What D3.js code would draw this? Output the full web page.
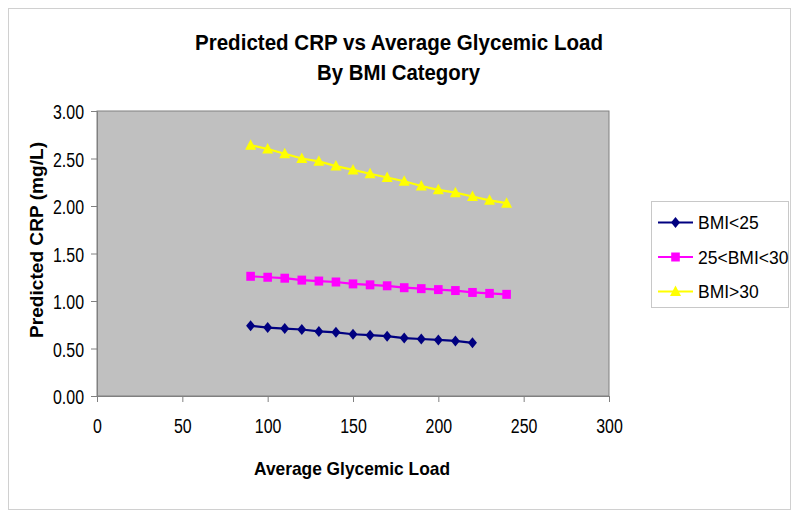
<!DOCTYPE html>
<html><head><meta charset="utf-8">
<script src="https://cdn.jsdelivr.net/npm/d3@7"></script>
<style>body{margin:0;background:#fff}svg{display:block}text{font-family:"Liberation Sans",Arial,sans-serif}</style>
</head><body><svg id="c" width="800" height="522"></svg>
<script>
const glycemicLoad = [90,100,110,120,130,140,150,160,170,180,190,200,210,220,230,240];
const bmiUnder25 = [0.74,0.72,0.71,0.70,0.68,0.67,0.65,0.64,0.63,0.61,0.60,0.59,0.58,0.56];
const bmi25to30 = [1.26,1.25,1.24,1.22,1.21,1.20,1.18,1.17,1.16,1.14,1.13,1.12,1.11,1.09,1.08,1.07];
const bmiOver30 = [2.64,2.60,2.55,2.50,2.47,2.42,2.38,2.34,2.30,2.26,2.21,2.17,2.14,2.10,2.06,2.03];
const seriesNames = ["BMI<25","25<BMI<30","BMI>30"];
const seriesColors = ["#000080","#FF00FF","#FFFF00"];
const xTicks = [0,50,100,150,200,250,300];
const yTicks = [0,0.5,1,1.5,2,2.5,3];
const titleLines = ["Predicted CRP vs Average Glycemic Load","By BMI Category"];
const xTitle = "Average Glycemic Load";
const yTitle = "Predicted CRP (mg/L)";

const svg = d3.select("#c");
svg.append("rect").attr("x",8.5).attr("y",8.5).attr("width",782).attr("height",501)
  .attr("fill","#fff").attr("stroke","#d0d0d0");

const P = {l:97,r:609,t:111,b:396};
const x = d3.scaleLinear().domain([0,300]).range([P.l,P.r]);
const y = d3.scaleLinear().domain([0,3]).range([P.b,P.t]);

svg.append("rect").attr("x",P.l).attr("y",P.t).attr("width",P.r-P.l).attr("height",P.b-P.t)
  .attr("fill","#C0C0C0").attr("stroke","#808080").attr("stroke-width",1);

// axes
const gx = svg.append("g").attr("transform",`translate(0,${P.b})`)
  .call(d3.axisBottom(x).tickValues(xTicks).tickSize(6).tickPadding(0).tickFormat(d3.format("d")));
const gy = svg.append("g").attr("transform",`translate(${P.l},0)`)
  .call(d3.axisLeft(y).tickValues(yTicks).tickSize(6).tickPadding(0).tickFormat(d3.format(".2f")));
[gx,gy].forEach(g=>{g.select(".domain").attr("stroke","#808080");g.selectAll(".tick line").attr("stroke","#808080");});
gx.selectAll(".tick text").attr("font-size",21).attr("fill","#000")
  .attr("y",0).attr("dy",0).attr("transform","translate(0,37) scale(0.76,1)");
gy.selectAll(".tick text").attr("font-size",21).attr("fill","#000")
  .attr("x",0).attr("dy",0).attr("transform","translate(-13,7.5) scale(0.76,1)");

// custom marker shapes (unit shapes scaled by generator)
const diamond = {draw(ctx){ctx.moveTo(0,-5.5);ctx.lineTo(4.5,0);ctx.lineTo(0,5.5);ctx.lineTo(-4.5,0);ctx.closePath();}};
const square = {draw(ctx){ctx.rect(-4.3,-4.5,8.6,9);}};
const triangle = {draw(ctx){ctx.moveTo(0,-6);ctx.lineTo(5.5,4.5);ctx.lineTo(-5.5,4.5);ctx.closePath();}};
const symbols = [diamond,square,triangle];

const data = [bmiUnder25,bmi25to30,bmiOver30].map((vals,i)=>vals.map((v,j)=>({x:glycemicLoad[j],y:v})));
const line = d3.line().x(d=>x(d.x)).y(d=>y(d.y));
data.forEach((s,i)=>{
  svg.append("path").attr("d",line(s)).attr("fill","none").attr("stroke",seriesColors[i]).attr("stroke-width",2.2);
  svg.append("g").selectAll("path").data(s).join("path")
    .attr("transform",d=>`translate(${x(d.x)},${y(d.y)})`)
    .attr("d",d3.symbol(symbols[i])).attr("fill",seriesColors[i]);
});

// titles
svg.append("text").attr("x",399).attr("y",50).attr("text-anchor","middle").attr("font-size",22.5)
  .attr("font-weight","bold").attr("textLength",408).attr("lengthAdjust","spacingAndGlyphs").text(titleLines[0]);
svg.append("text").attr("x",398.5).attr("y",80).attr("text-anchor","middle").attr("font-size",22.5)
  .attr("font-weight","bold").attr("textLength",163).attr("lengthAdjust","spacingAndGlyphs").text(titleLines[1]);
svg.append("text").attr("x",352).attr("y",475).attr("text-anchor","middle").attr("font-size",19)
  .attr("font-weight","bold").attr("textLength",196).attr("lengthAdjust","spacingAndGlyphs").text(xTitle);
svg.append("text").attr("transform","translate(43,240) rotate(-90)").attr("text-anchor","middle").attr("font-size",18)
  .attr("font-weight","bold").attr("textLength",196).attr("lengthAdjust","spacingAndGlyphs").text(yTitle);

// legend
const lg = svg.append("g");
lg.append("rect").attr("x",651.5).attr("y",201.5).attr("width",137).attr("height",106)
  .attr("fill","#fff").attr("stroke","#c8c8c8");
seriesNames.forEach((n,i)=>{
  const yy = 222.5 + i*34.5;
  lg.append("line").attr("x1",658).attr("x2",693).attr("y1",yy).attr("y2",yy).attr("stroke",seriesColors[i]).attr("stroke-width",2);
  lg.append("path").attr("transform",`translate(675.5,${yy})`).attr("d",d3.symbol(symbols[i])).attr("fill",seriesColors[i]);
  lg.append("text").attr("x",698).attr("y",yy+6.5).attr("font-size",17.5).text(n);
});
</script></body></html>
